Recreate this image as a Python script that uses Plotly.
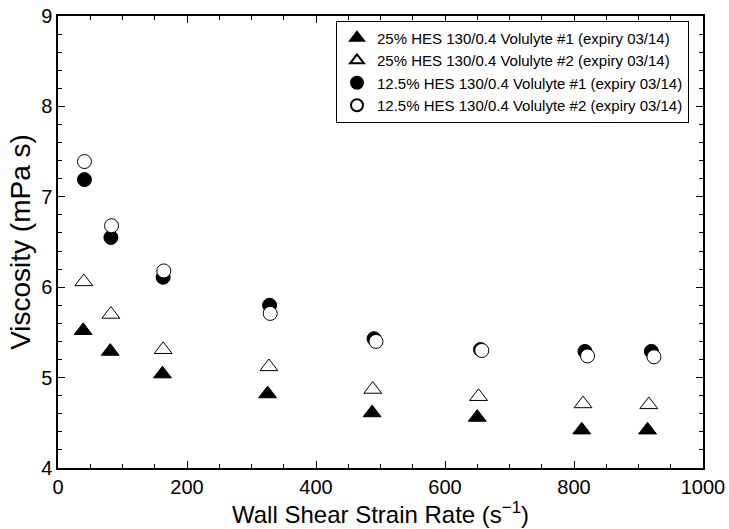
import plotly.graph_objects as go

series_names = [
    "25% HES 130/0.4 Volulyte #1 (expiry 03/14)",
    "25% HES 130/0.4 Volulyte #2 (expiry 03/14)",
    "12.5% HES 130/0.4 Volulyte #1 (expiry 03/14)",
    "12.5% HES 130/0.4 Volulyte #2 (expiry 03/14)",
]

x_tri1 = [39, 81, 162, 325, 487, 650, 812, 914]
y_tri1 = [5.52, 5.29, 5.04, 4.82, 4.61, 4.56, 4.42, 4.42]

x_tri2 = [40, 82, 163, 327, 488, 652, 814, 916]
y_tri2 = [6.06, 5.70, 5.31, 5.12, 4.87, 4.79, 4.71, 4.70]

x_circ1 = [41, 82, 163, 328, 490, 655, 817, 920]
y_circ1 = [7.19, 6.55, 6.11, 5.80, 5.43, 5.31, 5.29, 5.29]

x_circ2 = [41, 83, 164, 329, 493, 657, 821, 924]
y_circ2 = [7.39, 6.68, 6.18, 5.71, 5.40, 5.30, 5.24, 5.23]

x_ticks = [0, 200, 400, 600, 800, 1000]
y_ticks = [4, 5, 6, 7, 8, 9]

FONT = "Liberation Sans, Arial, Helvetica, sans-serif"

fig = go.Figure()
fig.add_trace(go.Scatter(x=x_tri1, y=y_tri1, mode="markers", name=series_names[0],
                         marker=dict(symbol="triangle-up", size=15.5, color="black",
                                     line=dict(color="black", width=1))))
fig.add_trace(go.Scatter(x=x_tri2, y=y_tri2, mode="markers", name=series_names[1],
                         marker=dict(symbol="triangle-up", size=15.5, color="white",
                                     line=dict(color="black", width=1))))
fig.add_trace(go.Scatter(x=x_circ1, y=y_circ1, mode="markers", name=series_names[2],
                         marker=dict(symbol="circle", size=14, color="black",
                                     line=dict(color="black", width=1))))
fig.add_trace(go.Scatter(x=x_circ2, y=y_circ2, mode="markers", name=series_names[3],
                         marker=dict(symbol="circle", size=14, color="white",
                                     line=dict(color="black", width=1))))

axis_common = dict(
    showgrid=False, zeroline=False, showline=True, linecolor="black", linewidth=1.5,
    mirror="ticks", ticks="inside", ticklen=7, tickwidth=1, tickcolor="black",
    tickfont=dict(family=FONT, size=20, color="black"),
    automargin=False,
)

fig.update_layout(
    width=729, height=529,
    margin=dict(l=58, r=26, t=16, b=61, autoexpand=False),
    paper_bgcolor="white", plot_bgcolor="white",
    font=dict(family=FONT, color="black"),
    xaxis=dict(range=[0, 1000], tickvals=x_ticks, ticktext=[str(v) for v in x_ticks],
               title=dict(text="Wall Shear Strain Rate (s<sup>−1</sup>)", font=dict(size=24), standoff=6),
               minor=dict(dtick=50, ticks="inside", ticklen=4, tickcolor="black"),
               **axis_common),
    yaxis=dict(range=[4, 9], tickvals=y_ticks, ticktext=[str(v) for v in y_ticks],
               title=dict(text="Viscosity (mPa s)", font=dict(size=28), standoff=2),
               minor=dict(dtick=0.2, ticks="inside", ticklen=4, tickcolor="black"),
               **axis_common),
    legend=dict(x=0.431, y=0.99, xanchor="left", yanchor="top",
                bordercolor="black", borderwidth=1, bgcolor="white",
                font=dict(size=15, family=FONT),
                itemsizing="constant", tracegroupgap=0),
    showlegend=True,
)

fig.write_html("out.html",
               config={"displayModeBar": False},
               post_script="document.body.style.margin='0';document.body.style.overflow='hidden';")
